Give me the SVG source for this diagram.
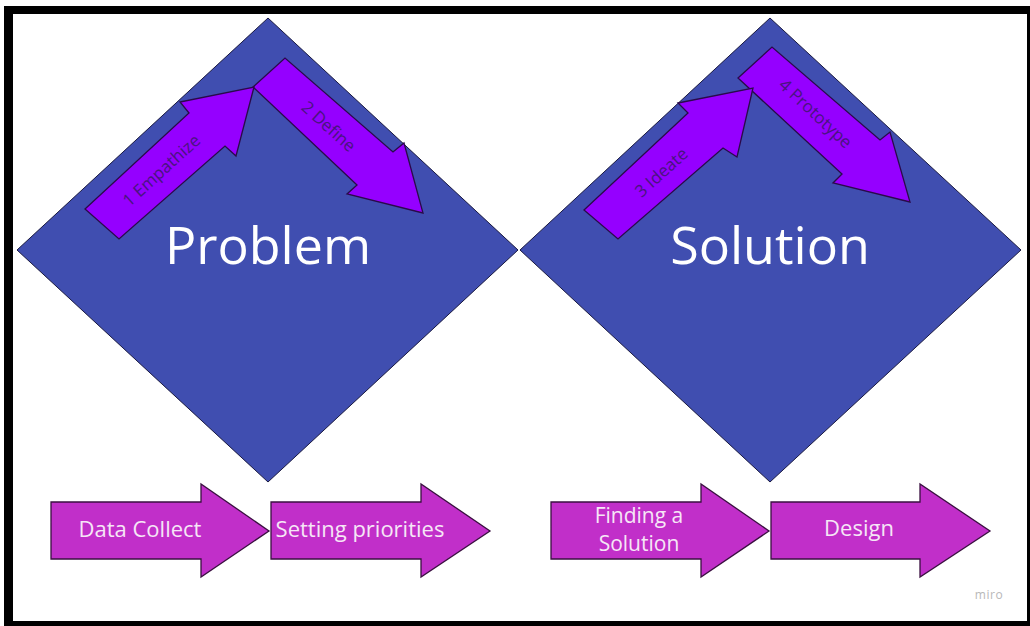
<svg xmlns="http://www.w3.org/2000/svg" width="1030" height="626" viewBox="0 0 1030 626">
<style>
.diamond{fill:#404eb0;stroke:#1a1a40;stroke-width:1}
.varrow{fill:#9500ff;stroke:#2a0a4a;stroke-width:1.3;stroke-linejoin:miter}
.barrow{fill:#c12fc9;stroke:#3a1040;stroke-width:1.3}
.big{font-family:"Open Sans",sans-serif;font-size:52px;fill:#ffffff;text-anchor:middle}
.vlabel{font-family:"Open Sans",sans-serif;font-size:17px;fill:#4a1480;text-anchor:middle;dominant-baseline:central}
.blabel{font-family:"Open Sans",sans-serif;font-size:22px;fill:#f6e6f6;text-anchor:middle}
.blabel2{font-family:"Open Sans",sans-serif;font-size:21px;fill:#f6e6f6;text-anchor:middle}
.miro{font-family:"Open Sans",sans-serif;font-size:12px;fill:#b8b8b8;text-anchor:middle;letter-spacing:0.5px}
</style>
<rect x="0" y="0" width="1030" height="626" fill="#ffffff"/>
<g id="frame" fill="#000000">
<rect x="4" y="6" width="1026" height="8"/>
<rect x="4" y="6" width="9" height="620"/>
<rect x="4" y="621" width="1026" height="5"/>
<rect x="1027" y="6" width="3" height="620"/>
</g>
<g id="problem">
<polygon class="diamond" points="268,18 518,250 268,482 17,250"/>
<text class="big" x="268" y="264">Problem</text>
</g>
<g id="solution">
<polygon class="diamond" points="770,18 1021,250 770,482 520,250"/>
<text class="big" x="770" y="264">Solution</text>
</g>
<g id="define">
<polygon class="varrow" points="253,87 285,58 393,152 404,143 423,213 347,194 357,185"/>
<text class="vlabel" transform="translate(329,126) rotate(42)">2 Define</text>
</g>
<g id="empathize">
<polygon class="varrow" points="85,209 189,113 180,102 254,87 236,156 225,146 119,239"/>
<text class="vlabel" transform="translate(161,170) rotate(-42)">1 Empathize</text>
</g>
<g id="prototype">
<polygon class="varrow" points="738,78 772,47 880,140 890,132 910,202 833,183 842,174"/>
<text class="vlabel" transform="translate(816,113) rotate(43)">4 Prototype</text>
</g>
<g id="ideate">
<polygon class="varrow" points="584,210 688,113 678,103 753,88 737,157 723,148 618,239"/>
<text class="vlabel" transform="translate(661,172) rotate(-42)">3 Ideate</text>
</g>
<g id="data-collect">
<polygon class="barrow" points="51,502 201,502 201,484 269,531 201,577 201,559 51,559"/>
<text class="blabel" x="140" y="537">Data Collect</text>
</g>
<g id="setting-priorities">
<polygon class="barrow" points="271,502 421,502 421,484 490,531 421,577 421,559 271,559"/>
<text class="blabel" x="360" y="537">Setting priorities</text>
</g>
<g id="finding-solution">
<polygon class="barrow" points="551,502 701,502 701,484 769,531 701,577 701,559 551,559"/>
<text class="blabel2" x="639" y="523">Finding a</text>
<text class="blabel2" x="639" y="551">Solution</text>
</g>
<g id="design">
<polygon class="barrow" points="771,502 920,502 920,484 990,531 920,577 920,559 771,559"/>
<text class="blabel" x="859" y="536">Design</text>
</g>
<g id="connectors"></g>
<text class="miro" x="989" y="599">miro</text>
</svg>
